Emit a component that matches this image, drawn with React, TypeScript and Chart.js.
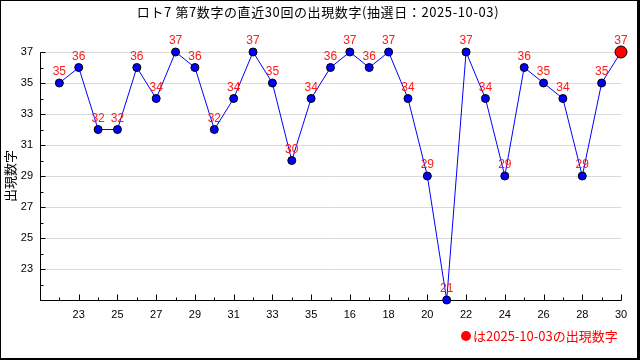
import React, { useEffect, useRef } from "react";
import { Chart, registerables } from "chart.js";

Chart.register(...registerables);

const TITLE = "ロト7 第7数字の直近30回の出現数字(抽選日：2025-10-03)";
const Y_TITLE = "出現数字";
const FOOTER = "は2025-10-03の出現数字";
const xLabels = [
  "22", "23", "24", "25", "26", "27", "28", "29", "30", "31",
  "32", "33", "34", "35", "15", "16", "17", "18", "19", "20",
  "21", "22", "23", "24", "25", "26", "27", "28", "29", "30",
];
const values = [
  35, 36, 32, 32, 36, 34, 37, 36, 32, 34,
  37, 35, 30, 34, 36, 37, 36, 37, 34, 29,
  21, 37, 34, 29, 36, 35, 34, 29, 35, 37,
];
const Y_MIN = 21;
const Y_MAX = 37;

const NARROW = '"Liberation Sans Narrow", "Liberation Sans", Arial, sans-serif';
const CJK = '"Noto Sans CJK JP", "Noto Sans", sans-serif';

const decorPlugin = {
  id: "decor",
  beforeDatasetsDraw(chart: any) {
    const { ctx, chartArea, scales } = chart;
    const xs = scales.x;
    const ys = scales.y;
    ctx.save();
    ctx.strokeStyle = "#000";
    ctx.lineWidth = 1;
    const left = Math.round(chartArea.left) + 0.5;
    const bottom = Math.round(chartArea.bottom) + 0.5;
    ctx.beginPath();
    ctx.moveTo(left, Math.round(chartArea.top) + 0.5);
    ctx.lineTo(left, bottom);
    ctx.lineTo(Math.round(chartArea.right) + 0.5, bottom);
    for (let v = Y_MIN; v <= Y_MAX; v++) {
      const py = Math.round(ys.getPixelForValue(v)) + 0.5;
      const len = v % 2 === 1 ? 5 : 3;
      ctx.moveTo(left, py);
      ctx.lineTo(left + len, py);
    }
    for (let i = -1; i < values.length; i++) {
      const px = Math.round(xs.getPixelForValue(i)) + 0.5;
      const len = i >= 0 && i % 2 === 1 ? 6 : 3;
      ctx.moveTo(px, bottom);
      ctx.lineTo(px, bottom - len);
    }
    ctx.stroke();
    ctx.restore();
  },
  afterDatasetsDraw(chart: any) {
    const { ctx } = chart;
    const meta = chart.getDatasetMeta(0);
    ctx.save();
    ctx.fillStyle = "#ff1a1a";
    ctx.font = `12px ${NARROW}`;
    ctx.textAlign = "center";
    ctx.textBaseline = "middle";
    meta.data.forEach((pt: any, i: number) => {
      ctx.fillText(String(values[i]), pt.x, pt.y - 11);
    });
    ctx.restore();
  },
  afterDraw(chart: any) {
    const { ctx } = chart;
    ctx.save();
    ctx.fillStyle = "#000";
    ctx.font = `13px ${CJK}`;
    ctx.textAlign = "center";
    ctx.textBaseline = "middle";
    (ctx as any).letterSpacing = "0.6px";
    ctx.fillText(TITLE, 318, 12);
    (ctx as any).letterSpacing = "0px";
    ctx.save();
    ctx.translate(10, 176);
    ctx.rotate(-Math.PI / 2);
    ctx.fillText(Y_TITLE, 0, 0);
    ctx.restore();
    ctx.fillStyle = "#ff0000";
    ctx.beginPath();
    ctx.arc(466, 336, 5, 0, Math.PI * 2);
    ctx.fill();
    ctx.textAlign = "left";
    ctx.fillText(FOOTER, 473, 336);
    ctx.fillStyle = "#000";
    ctx.fillRect(0, 0, 640, 1);
    ctx.fillRect(0, 0, 1, 360);
    ctx.fillRect(637, 0, 3, 360);
    ctx.fillRect(0, 358, 640, 2);
    ctx.restore();
  },
};

export default function App() {
  const ref = useRef<HTMLCanvasElement>(null);
  useEffect(() => {
    document.body.style.margin = "0";
    const canvas = ref.current!;
    const chart = new Chart(canvas, {
      type: "line",
      data: {
        datasets: [
          {
            data: values.map((v, i) => ({ x: i, y: v })),
            borderColor: "#0000ff",
            borderWidth: 1,
            tension: 0,
            pointBackgroundColor: values.map((_, i) => (i === values.length - 1 ? "#ff0000" : "#0000ff")),
            pointBorderColor: "#000",
            pointBorderWidth: 1,
            pointRadius: values.map((_, i) => (i === values.length - 1 ? 6 : 4)),
            clip: false as any,
          },
        ],
      },
      options: {
        responsive: false,
        animation: false,
        layout: { padding: { left: 0, right: 19, top: 52, bottom: 0 } },
        plugins: { legend: { display: false }, tooltip: { enabled: false }, title: { display: false } },
        scales: {
          x: {
            type: "linear",
            min: -1,
            max: values.length - 1,
            grid: { display: false, drawTicks: false },
            border: { display: false },
            ticks: {
              stepSize: 1,
              autoSkip: false,
              maxRotation: 0,
              padding: 8,
              color: "#000",
              font: { family: NARROW, size: 11 },
              callback: (v: any) => {
                const i = Number(v);
                return Number.isInteger(i) && i >= 0 && i % 2 === 1 ? xLabels[i] : "";
              },
            },
            afterFit: (s: any) => {
              s.height = 60;
            },
          },
          y: {
            type: "linear",
            min: Y_MIN,
            max: Y_MAX,
            grid: {
              drawTicks: false,
              color: (c: any) => (c.tick && c.tick.value === Y_MIN ? "rgba(0,0,0,0)" : "#d9d9d9"),
              lineWidth: 1,
            },
            border: { display: false },
            ticks: {
              stepSize: 2,
              padding: 7,
              color: "#000",
              font: { family: NARROW, size: 11 },
              callback: (v: any) => (Number(v) === Y_MIN ? "" : String(v)),
            },
            afterFit: (s: any) => {
              s.width = 40;
            },
          },
        },
      },
      plugins: [decorPlugin],
    });
    return () => chart.destroy();
  }, []);
  return <canvas ref={ref} width={640} height={360} style={{ display: "block" }} />;
}
